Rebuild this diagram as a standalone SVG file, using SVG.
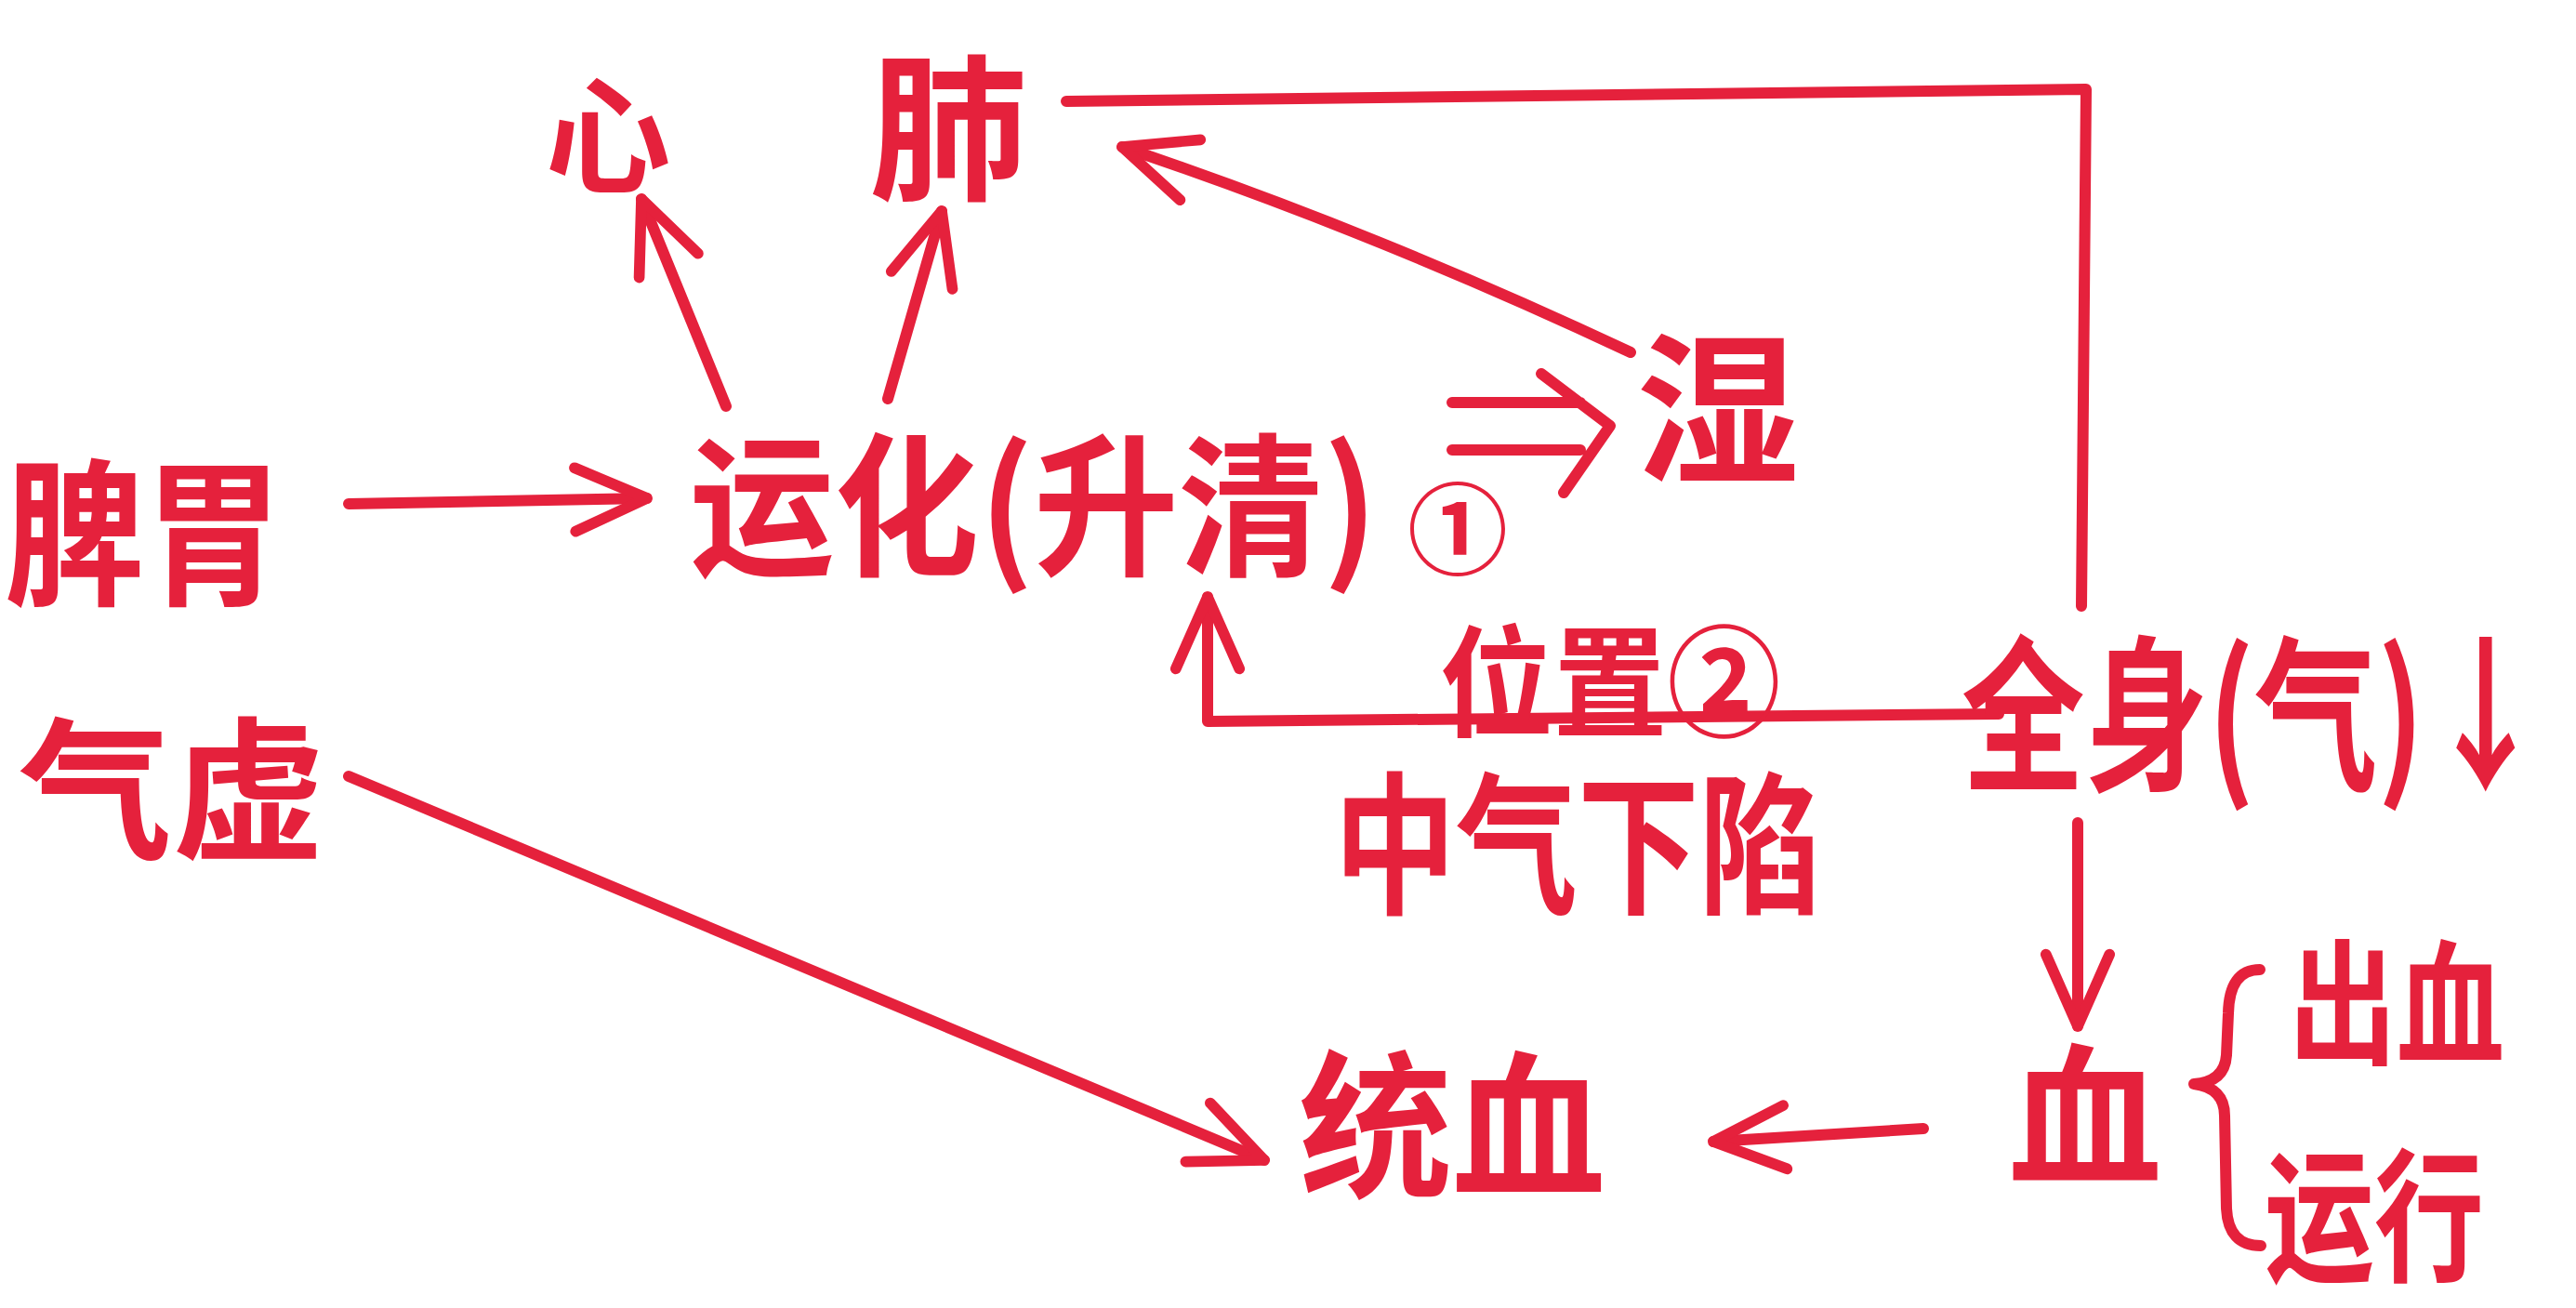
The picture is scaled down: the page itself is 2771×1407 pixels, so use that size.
<svg xmlns="http://www.w3.org/2000/svg" width="2771" height="1407" viewBox="0 0 2771 1407">
<defs>
<style>
.t{font-family:"Noto Sans CJK SC","Noto Sans CJK JP",sans-serif;font-weight:700;fill:#e5213c;text-anchor:middle;}
.c{fill:none;stroke:#e5213c;stroke-width:12;stroke-linecap:round;stroke-linejoin:round;}
</style>
<marker id="ah" viewBox="0 0 100 100" refX="94" refY="50" markerWidth="90" markerHeight="90" markerUnits="userSpaceOnUse" orient="auto">
<path d="M8,12 L94,50 L8,88" fill="none" stroke="#e5213c" stroke-width="13" stroke-linecap="round" stroke-linejoin="round"/>
</marker>
</defs>
<rect width="2771" height="1407" fill="#ffffff"/>
<g id="connectors">
<path class="c" d="M375,542 L696,536" marker-end="url(#ah)"/>
<path class="c" d="M781,437 L690,214" marker-end="url(#ah)"/>
<path class="c" d="M955,429 L1013,227" marker-end="url(#ah)"/>
<path class="c" d="M1754,379 Q1480,250 1207,158" marker-end="url(#ah)"/>
<path class="c" d="M1147,109 L2244,96 L2239,652"/>
<path class="c" d="M1562,433 L1700,433 M1562,484 L1700,484 M1658,402 L1732,458 L1682,530"/>
<path class="c" d="M2150,768 L1299,776 L1299,642" marker-end="url(#ah)"/>
<path class="c" d="M2235,885 L2235,1104" marker-end="url(#ah)"/>
<path class="c" d="M2069,1214 L1843,1228" marker-end="url(#ah)"/>
<path class="c" d="M375,835 L1360,1248" marker-end="url(#ah)"/>
<path class="c" d="M2431,1043 Q2398,1043 2397,1090 L2395,1135 Q2393,1164 2360,1166 Q2393,1170 2393,1200 L2395,1300 Q2397,1340 2432,1340"/>
</g>
<g id="n-piwei"><text class="t" x="155" y="638" font-size="170" textLength="300" lengthAdjust="spacingAndGlyphs">脾胃</text></g>
<g id="n-qixu"><text class="t" x="185" y="911" font-size="165" textLength="330" lengthAdjust="spacingAndGlyphs">气虚</text></g>
<g id="n-yunhua"><text class="t" x="1112" y="606" font-size="165" textLength="740" lengthAdjust="spacingAndGlyphs">运化(升清)</text></g>
<g id="n-one"><text class="t" x="1568" y="610" font-size="108">①</text></g>
<g id="n-xin"><text class="t" x="654" y="197" font-size="135">心</text></g>
<g id="n-fei"><text class="t" x="1020" y="202" font-size="170">肺</text></g>
<g id="n-shi"><text class="t" x="1848" y="506" font-size="175">湿</text></g>
<g id="n-weizhi"><text class="t" x="1732" y="782" font-size="130" textLength="367" lengthAdjust="spacingAndGlyphs">位置②</text></g>
<g id="n-zhongqi"><text class="t" x="1697" y="970" font-size="165" textLength="524" lengthAdjust="spacingAndGlyphs">中气下陷</text></g>
<g id="n-quanshen"><text class="t" x="2425" y="836" font-size="180" textLength="630" lengthAdjust="spacingAndGlyphs">全身(气)↓</text></g>
<g id="n-xue"><text class="t" x="2243" y="1262" font-size="165">血</text></g>
<g id="n-tongxue"><text class="t" x="1562" y="1275" font-size="170" textLength="330" lengthAdjust="spacingAndGlyphs">统血</text></g>
<g id="n-chuxue"><text class="t" x="2578" y="1134" font-size="145" textLength="232" lengthAdjust="spacingAndGlyphs">出血</text></g>
<g id="n-yunxing"><text class="t" x="2554" y="1366" font-size="155" textLength="236" lengthAdjust="spacingAndGlyphs">运行</text></g>
</svg>
